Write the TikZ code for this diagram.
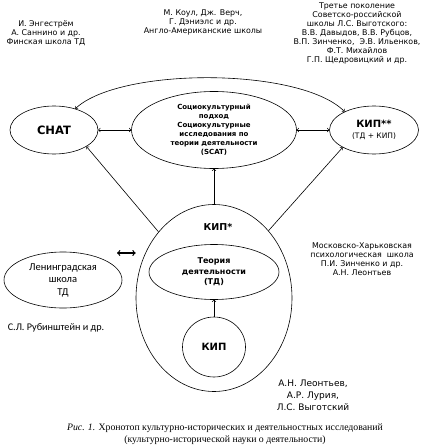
\documentclass[tikz,border=0pt]{standalone}
\usepackage{fontspec}
\setmainfont{DejaVu Sans}
\newfontfamily\carlito{Carlito}
\newfontfamily\legende{Liberation Serif}
\usetikzlibrary{arrows, shapes.geometric}

\tikzset{
	bulle/.style={draw, ellipse, inner sep=0pt, line width=0.6pt, align=center},
	auteurs/.style={align=center, inner sep=0pt, font=\fontsize{7.9}{8.9}\selectfont},
	fleche/.style={->, line width=0.6pt},
	fleches/.style={<->, line width=0.6pt}
}

\begin{document}
\begin{tikzpicture}[x=1pt, y=-1pt]
	\useasboundingbox (0,0) rectangle (436,447);
	%les ellipses
	\node[bulle, minimum width=88, minimum height=48, font=\bfseries\fontsize{11.5}{12}\selectfont] (chat) at (54,130) {CHAT};
	\node[bulle, minimum width=165, minimum height=77, font=\bfseries\fontsize{7}{9}\selectfont] (scat) at (214,130) {Социокультурный\\подход\\Социокультурные\\исследования по\\теории деятельности\\(SCAT)};
	\node[bulle, minimum width=89, minimum height=48] (kipss) at (374,130) {{\bfseries\fontsize{10}{12}\selectfont КИП**}\\[-1pt]{\fontsize{7.5}{9}\selectfont (ТД + КИП)}};
	\node[bulle, minimum width=156, minimum height=187] (kipe) at (214,298) {};
	\node[font=\bfseries\fontsize{9.5}{11}\selectfont] (kipetxt) at (218,227) {КИП*};
	\node[bulle, minimum width=130, minimum height=55, font=\bfseries\fontsize{8}{10.5}\selectfont] (td) at (214,272) {Теория\\деятельности\\(ТД)};
	\node[bulle, minimum width=63, minimum height=60, font=\bfseries\fontsize{10}{12}\selectfont] (kip) at (214,347) {КИП};
	\node[bulle, minimum width=118, minimum height=56, font=\carlito\fontsize{10.5}{12.5}\selectfont] (len) at (63,280) {Ленинградская\\школа\\ТД};
	%les flèches
	\draw[fleches] (chat) -- (scat);
	\draw[fleches] (scat) -- (kipss);
	\draw[fleches] (chat.45) .. controls (120,67) and (300,67) .. (kipss.148);
	\draw[fleche] (kipe.north) -- (scat.south);
	\draw[fleche] (kip.north) -- (td.south);
	\draw[fleche] (kipe.130) -- (chat.-27);
	\draw[fleche] (kipe.51) -- (kipss.-151);
	\coordinate (lg) at (117,253);
	\draw[<->, line width=1.2pt] (lg) -- (lg -| kipe.west);
	%les textes
	\node[auteurs] (finn) at (46,33) {И. Энгестрём\\А. Саннино и др.\\Финская школа ТД};
	\node[auteurs] (anglo) at (203,22.5) {М. Коул, Дж. Верч,\\Г. Дэниэлс и др.\\Англо-Американские школы};
	\node[auteurs] (sov) at (357,33.5) {Третье поколение\\Советско-российской\\школы Л.С. Выготского:\\В.В. Давыдов, В.В. Рубцов,\\В.П. Зинченко,\ \ Э.В. Ильенков,\\Ф.Т. Михайлов\\Г.П. Щедровицкий и др.};
	\node[auteurs] (mosk) at (362,259) {Московско-Харьковская\\психологическая\ \ школа\\П.И. Зинченко и др.\\А.Н. Леонтьев};
	\node[auteurs, font=\fontsize{9}{12}\selectfont] (fond) at (313,395) {А.Н. Леонтьев,\\А.Р. Лурия,\\Л.С. Выготский};
	\node[inner sep=0pt, font=\carlito\fontsize{10.2}{11}\selectfont] (rub) at (56,328) {С.Л. Рубинштейн и др.};
	\node[inner sep=0pt, align=center, font=\legende\fontsize{9.8}{11.5}\selectfont] (leg) at (225,434) {\textit{Рис. 1.} Хронотоп культурно-исторических и деятельностных исследований\\(культурно-исторической науки о деятельности)};
\end{tikzpicture}
\end{document}
